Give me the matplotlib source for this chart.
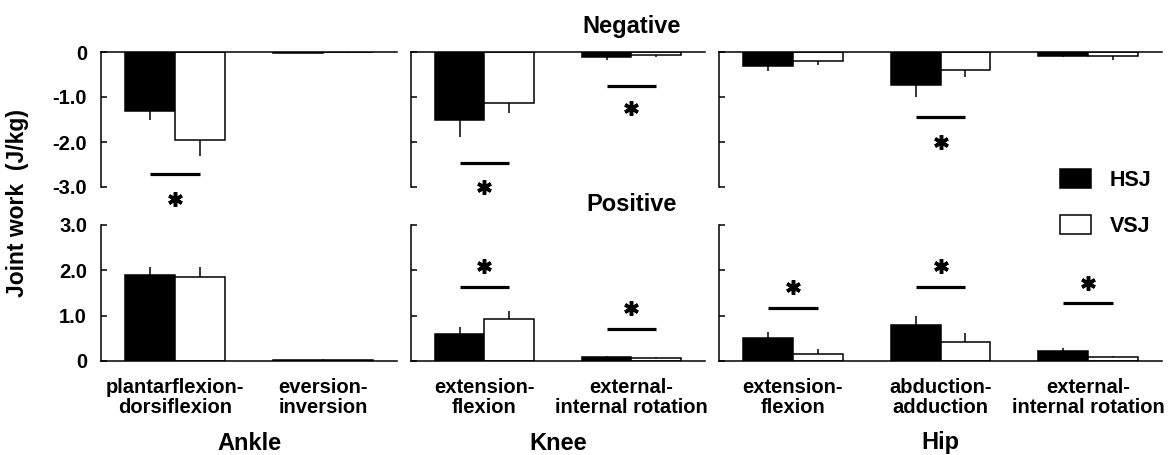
import matplotlib
matplotlib.use("Agg")
import matplotlib.pyplot as plt
from matplotlib.patches import Patch
import numpy as np

plt.rcParams['font.family'] = ['Liberation Sans', 'DejaVu Sans']
plt.rcParams['font.size'] = 14.5
plt.rcParams['font.weight'] = 'bold'

joints = ["Ankle", "Knee", "Hip"]
categories = [
    ["plantarflexion-\ndorsiflexion", "eversion-\ninversion"],
    ["extension-\nflexion", "external-\ninternal rotation"],
    ["extension-\nflexion", "abduction-\nadduction", "external-\ninternal rotation"],
]

# negative joint work (J/kg), mean and SD
neg_hsj = [[-1.30, -0.02], [-1.51, -0.12], [-0.30, -0.73, -0.08]]
neg_hsj_sd = [[0.22, 0.01], [0.38, 0.06], [0.12, 0.27, 0.04]]
neg_vsj = [[-1.96, -0.01], [-1.13, -0.06], [-0.20, -0.39, -0.09]]
neg_vsj_sd = [[0.34, 0.005], [0.23, 0.04], [0.09, 0.16, 0.09]]

# positive joint work (J/kg), mean and SD
pos_hsj = [[1.89, 0.02], [0.60, 0.08], [0.50, 0.80, 0.22]]
pos_hsj_sd = [[0.18, 0.01], [0.16, 0.04], [0.13, 0.19, 0.07]]
pos_vsj = [[1.85, 0.02], [0.92, 0.06], [0.15, 0.43, 0.08]]
pos_vsj_sd = [[0.22, 0.01], [0.19, 0.02], [0.11, 0.18, 0.04]]

# significance: (joint, category, line y, star y)
neg_sig = [(0, 0, -2.70, -3.26), (1, 0, -2.47, -2.99), (1, 1, -0.75, -1.25), (2, 1, -1.44, -1.99)]
pos_sig = [(1, 0, 1.63, 2.10), (1, 1, 0.71, 1.18), (2, 0, 1.17, 1.64), (2, 1, 1.63, 2.10), (2, 2, 1.27, 1.73)]

W, H = 1171, 455
fig = plt.figure(figsize=(W / 100, H / 100), dpi=100)

xpix = [(101, 397), (411, 705), (719, 1162)]
top_row = (52, 187)
bot_row = (225, 361)


def make_ax(x0, x1, y0, y1):
    return fig.add_axes([x0 / W, 1 - y1 / H, (x1 - x0) / W, (y1 - y0) / H])


bw = 0.338
lw = 1.1
top_axes, bot_axes = [], []
for j in range(3):
    n = len(categories[j])
    x = np.arange(n)
    for row, (hs, hsd, vs, vsd) in enumerate([(neg_hsj, neg_hsj_sd, neg_vsj, neg_vsj_sd),
                                               (pos_hsj, pos_hsj_sd, pos_vsj, pos_vsj_sd)]):
        ypx = top_row if row == 0 else bot_row
        ax = make_ax(xpix[j][0], xpix[j][1], ypx[0], ypx[1])
        h = np.array(hs[j])
        v = np.array(vs[j])
        z = np.zeros(n)
        if row == 0:
            eh = [np.array(hsd[j]), z]
            ev = [np.array(vsd[j]), z]
        else:
            eh = [z, np.array(hsd[j])]
            ev = [z, np.array(vsd[j])]
        ax.errorbar(x - bw / 2, h, yerr=eh, fmt='none', ecolor='black', elinewidth=lw, capsize=0, zorder=1)
        ax.errorbar(x + bw / 2, v, yerr=ev, fmt='none', ecolor='black', elinewidth=lw, capsize=0, zorder=1)
        ax.bar(x - bw / 2, h, bw, color='black', edgecolor='black', linewidth=lw, zorder=2)
        ax.bar(x + bw / 2, v, bw, color='white', edgecolor='black', linewidth=lw, zorder=2)
        ax.set_xlim(-0.5, n - 0.5)
        for s in ax.spines.values():
            s.set_linewidth(lw)
        ax.spines['right'].set_visible(False)
        if row == 0:
            ax.set_ylim(-3, 0)
            ax.spines['bottom'].set_visible(False)
            ax.set_yticks([0, -1, -2, -3])
            ax.set_yticklabels(["0", "-1.0", "-2.0", "-3.0"])
            ax.set_xticks([])
            top_axes.append(ax)
        else:
            ax.set_ylim(0, 3)
            ax.spines['top'].set_visible(False)
            ax.set_yticks([0, 1, 2, 3])
            ax.set_yticklabels(["0", "1.0", "2.0", "3.0"])
            ax.set_xticks(x)
            ax.set_xticklabels(categories[j], linespacing=1.1)
            ax.tick_params(axis='x', length=0, pad=12)
            bot_axes.append(ax)
        ax.tick_params(axis='y', direction='in', length=4, width=lw, pad=10)
        if j > 0:
            ax.tick_params(axis='y', labelleft=False)
        ax.patch.set_alpha(0)

for sigs, axes in [(neg_sig, top_axes), (pos_sig, bot_axes)]:
    for j, c, ly, sy in sigs:
        ax = axes[j]
        ax.plot([c - bw / 2, c + bw / 2], [ly, ly], color='black', lw=2.3, solid_capstyle='butt', clip_on=False)
        ax.plot([c], [sy], marker=(6, 2, 0), markersize=10.5, mew=2.5, color='black', clip_on=False)

fig.text(632 / W, 1 - 27 / H, "Negative", ha='center', va='center', fontsize=17)
fig.text(632 / W, 1 - 205 / H, "Positive", ha='center', va='center', fontsize=17)
for j in range(3):
    fig.text((xpix[j][0] + xpix[j][1]) / 2 / W, 1 - 443 / H, joints[j], ha='center', va='center', fontsize=17)
fig.text(18 / W, 1 - 203 / H, "Joint work  (J/kg)", rotation=90, ha='center', va='center', fontsize=16.5)

handles = [Patch(facecolor='black', edgecolor='black', linewidth=lw),
           Patch(facecolor='white', edgecolor='black', linewidth=lw)]
fig.legend(handles, ["HSJ", "VSJ"], loc='center left', bbox_to_anchor=(1041 / W, 1 - 203 / H),
           frameon=False, handlelength=1.4, handleheight=1.0, labelspacing=1.1,
           handletextpad=0.9, fontsize=15.5)

fig.savefig("out.png", dpi=100)
